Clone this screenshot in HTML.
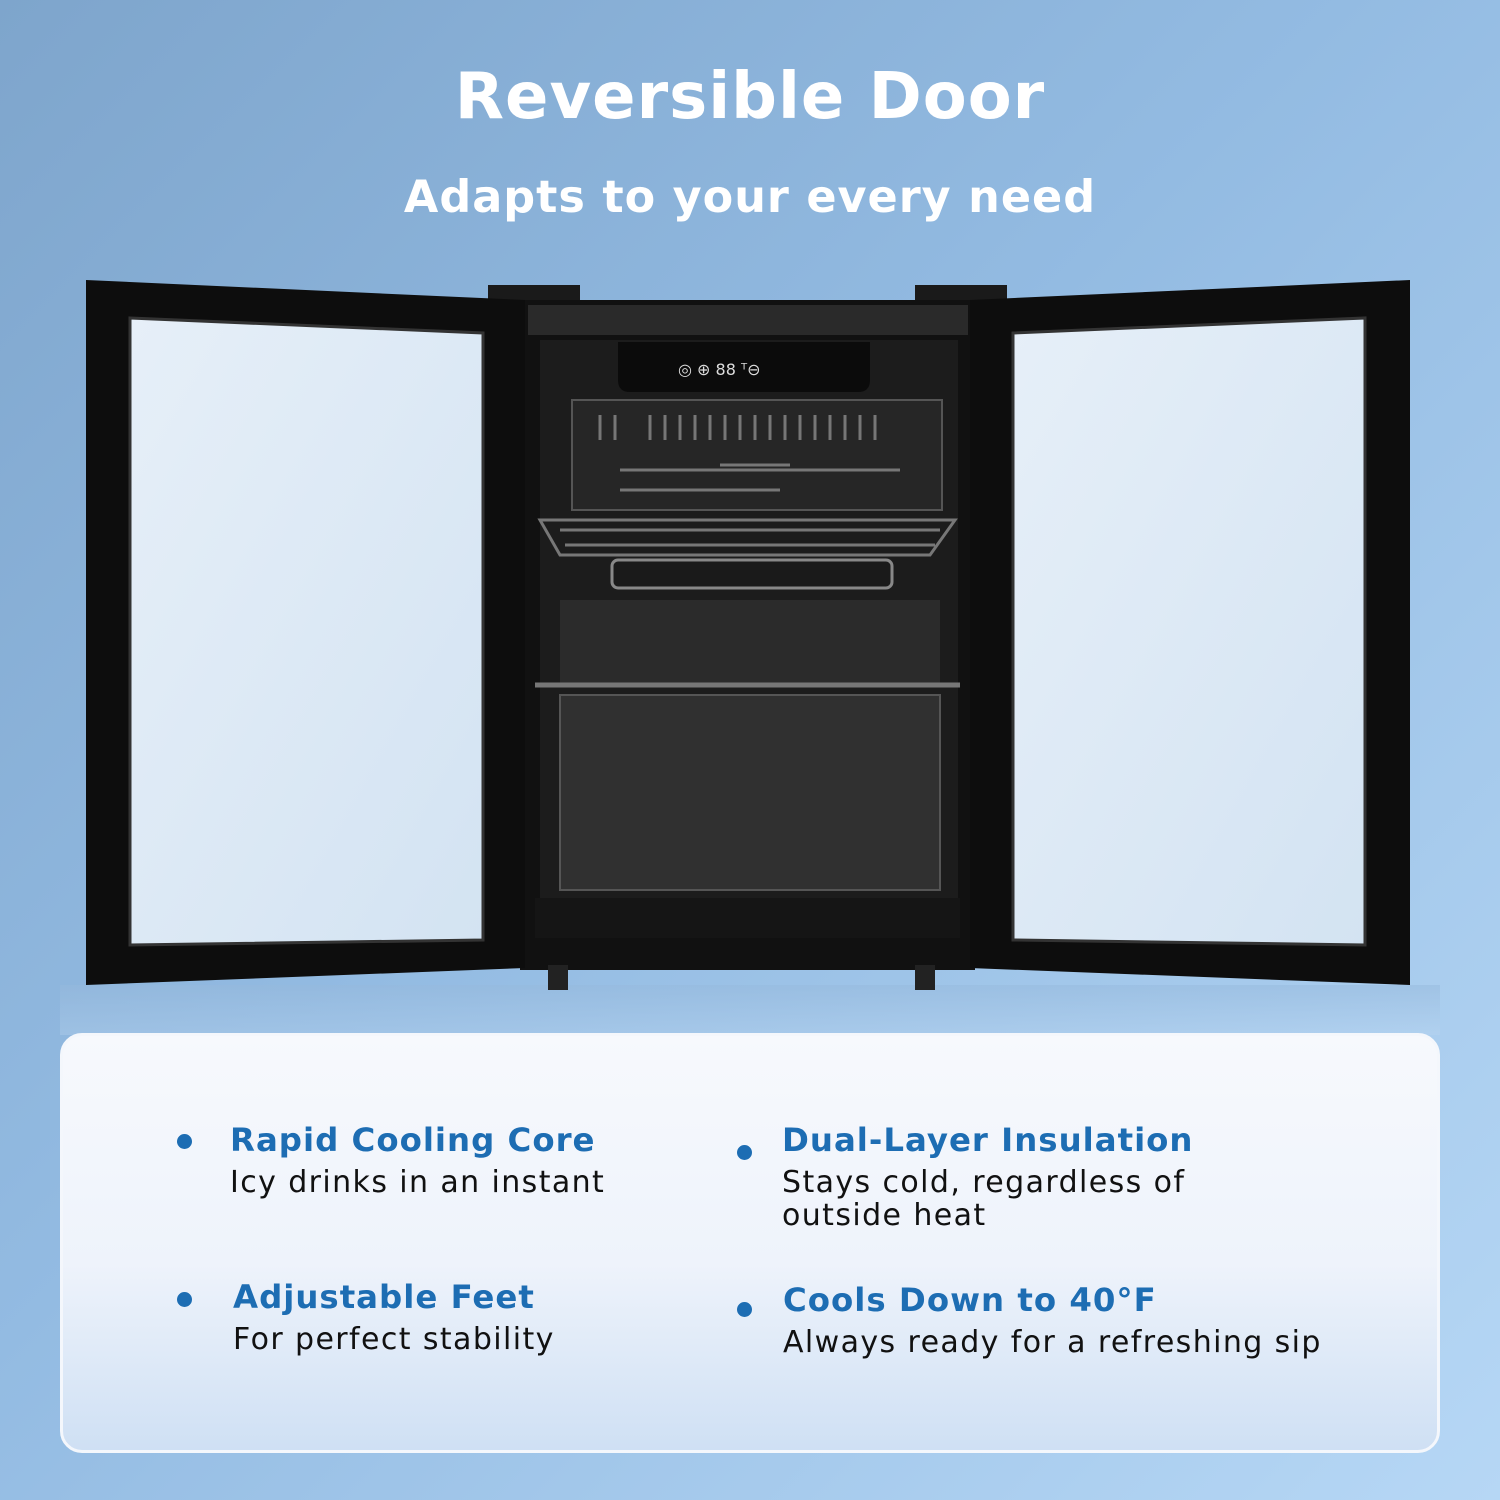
<!DOCTYPE html>
<html><head><meta charset="utf-8">
<style>
html,body{margin:0;padding:0}
body{width:1500px;height:1500px;position:relative;overflow:hidden;
background:linear-gradient(135deg,#7ea5cc 0%,#93bbe2 45%,#b6d7f5 100%);
font-family:"Liberation Sans","DejaVu Sans",sans-serif}
.t1{position:absolute;top:60px;left:0;width:1500px;text-align:center;color:#fff;font-weight:bold;font-size:64px;letter-spacing:1px;font-family:"DejaVu Sans","Liberation Sans",sans-serif}
.t2{position:absolute;top:172px;left:0;width:1500px;text-align:center;color:#fff;font-weight:bold;font-size:44.5px;letter-spacing:1px;font-family:"DejaVu Sans","Liberation Sans",sans-serif}
.card{position:absolute;left:60px;top:1033px;width:1380px;height:420px;border-radius:22px;
background:linear-gradient(180deg,#f7f9fd 0%,#eef3fb 55%,#cfe0f4 100%);border:3px solid #f4f7fc;box-sizing:border-box}
.it{position:absolute;font-family:"DejaVu Sans","Liberation Sans",sans-serif}
.it h3{margin:0;color:#1d6db3;font-size:32.4px;font-weight:bold;letter-spacing:1px;line-height:40px}
.it p{margin:6px 0 0;color:#111;font-size:30px;line-height:33px;letter-spacing:1.4px}
.dot{position:absolute;width:15px;height:15px;border-radius:50%;background:#1d6db3}
.floor{position:absolute;left:60px;top:985px;width:1380px;height:50px;background:linear-gradient(180deg,rgba(150,185,220,0.5),rgba(190,215,240,0.3))}
</style></head><body>
<div class="floor"></div>
<div class="t1">Reversible Door</div>
<div class="t2">Adapts to your every need</div>
<svg style="position:absolute;left:0;top:0" width="1500" height="1010">
<defs><linearGradient id="g" x1="0" y1="0" x2="1" y2="1"><stop offset="0" stop-color="#e6eff8"/><stop offset="1" stop-color="#d3e3f2"/></linearGradient></defs>
<rect x="488" y="285" width="92" height="20" fill="#1a1a1a"/>
<rect x="915" y="285" width="92" height="20" fill="#1a1a1a"/>
<rect x="520" y="300" width="455" height="670" fill="#111"/>
<rect x="528" y="305" width="440" height="30" fill="#2a2a2a"/>
<rect x="540" y="340" width="418" height="560" fill="#1c1c1c"/>
<path d="M618 342 H870 V380 Q870 392 858 392 H630 Q618 392 618 380Z" fill="#0b0b0b"/>
<text x="678" y="375" fill="#ddd" font-size="16" font-family="DejaVu Sans">◎ ⊕ 88 ᵀ⊖</text>
<rect x="572" y="400" width="370" height="110" fill="#262626" stroke="#555" stroke-width="2"/>
<g stroke="#777" stroke-width="3" fill="none">
<path d="M600 440 V415 M615 440 V415 M650 440 V415 M665 440 V415 M680 440 V415 M695 440 V415 M710 440 V415 M725 440 V415 M740 440 V415 M755 440 V415 M770 440 V415 M785 440 V415 M800 440 V415 M815 440 V415 M830 440 V415 M845 440 V415 M860 440 V415 M875 440 V415"/>
<path d="M620 470 H900 M620 490 H780 M720 465 H790"/>
<path d="M540 520 L955 520 L930 555 L560 555Z"/>
<path d="M560 530 H940 M565 545 H935"/>
</g>
<rect x="612" y="560" width="280" height="28" rx="6" fill="#1a1a1a" stroke="#888" stroke-width="3"/>
<rect x="560" y="600" width="380" height="85" fill="#2b2b2b"/>
<path d="M535 685 H960" stroke="#777" stroke-width="5"/>
<rect x="560" y="695" width="380" height="195" fill="#303030" stroke="#555" stroke-width="2"/>
<rect x="535" y="898" width="425" height="40" fill="#151515"/>
<rect x="548" y="965" width="20" height="25" fill="#222"/>
<rect x="915" y="965" width="20" height="25" fill="#222"/>
<path d="M86 280 L525 300 L525 968 L86 985Z" fill="#0d0d0d"/>
<path d="M130 318 L483 333 L483 940 L130 945Z" fill="url(#g)" stroke="#333" stroke-width="3"/>
<path d="M970 300 L1410 280 L1410 985 L970 968Z" fill="#0d0d0d"/>
<path d="M1013 333 L1365 318 L1365 945 L1013 940Z" fill="url(#g)" stroke="#333" stroke-width="3"/>
</svg>
<div class="card"></div>
<div class="dot" style="left:177px;top:1134px"></div>
<div class="it" style="left:230px;top:1120px"><h3>Rapid Cooling Core</h3><p>Icy drinks in an instant</p></div>
<div class="dot" style="left:737px;top:1145px"></div>
<div class="it" style="left:782px;top:1120px"><h3>Dual-Layer Insulation</h3><p>Stays cold, regardless of<br>outside heat</p></div>
<div class="dot" style="left:177px;top:1292px"></div>
<div class="it" style="left:233px;top:1277px"><h3>Adjustable Feet</h3><p>For perfect stability</p></div>
<div class="dot" style="left:737px;top:1302px"></div>
<div class="it" style="left:783px;top:1280px"><h3>Cools Down to 40°F</h3><p>Always ready for a refreshing sip</p></div>
</body></html>
